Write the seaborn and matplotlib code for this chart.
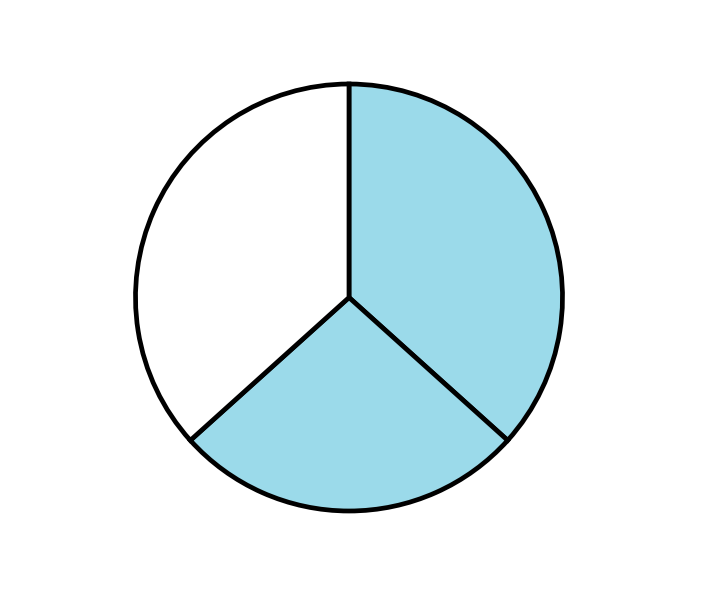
import matplotlib
matplotlib.use("Agg")
import matplotlib.pyplot as plt
import seaborn as sns

sns.set_theme(style="white")

# slice shares, clockwise from 12 o'clock
labels = ["A", "B", "C"]
values = [11, 8, 11]
colors = ["#9bdaea", "#9bdaea", "#ffffff"]

fig = plt.figure(figsize=(7.14, 5.98), dpi=100)
r = 213.5
cx, cy = 349, 598 - 297.5
ax = fig.add_axes([(cx - r) / 714, (cy - r) / 598, 2 * r / 714, 2 * r / 598])

ax.pie(values, colors=colors, startangle=90, counterclock=False, radius=1,
       wedgeprops=dict(edgecolor="black", linewidth=3.4, joinstyle="miter"))
ax.set_xlim(-1, 1)
ax.set_ylim(-1, 1)
ax.set_aspect("equal")
ax.axis("off")

fig.savefig("out.png", dpi=100)
